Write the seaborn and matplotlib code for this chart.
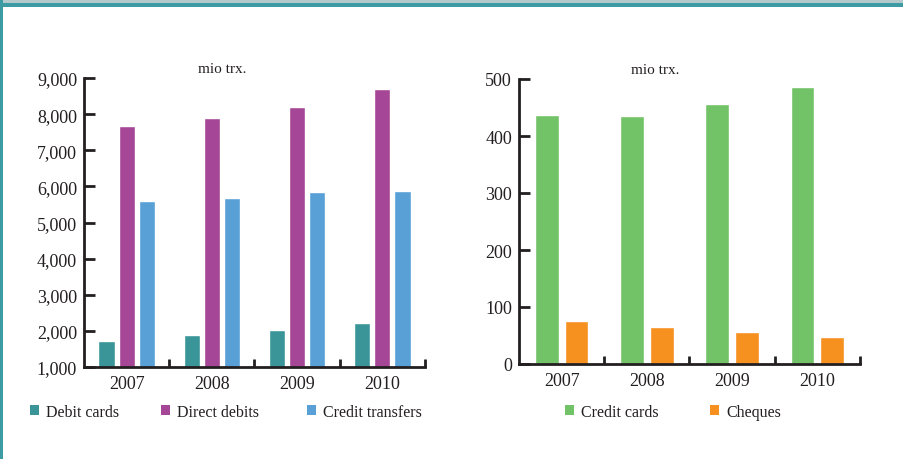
import pandas as pd
import matplotlib
matplotlib.use("Agg")
import matplotlib.pyplot as plt
import seaborn as sns
from matplotlib.patches import Patch, Rectangle
from matplotlib.ticker import FuncFormatter, FixedLocator

years = ["2007", "2008", "2009", "2010"]

# left panel: mio transactions
debit_cards = [1720, 1890, 2020, 2220]
direct_debits = [7680, 7900, 8200, 8700]
credit_transfers = [5600, 5680, 5850, 5880]

# right panel: mio transactions
credit_cards = [437, 435, 456, 486]
cheques = [75, 65, 56, 47]

left_series = ["Debit cards", "Direct debits", "Credit transfers"]
left_colors = ["#3a9599", "#a64696", "#58a0d6"]
right_series = ["Credit cards", "Cheques"]
right_colors = ["#72c267", "#f6901e"]

dark = "#231f20"

sns.set_style("ticks")
plt.rcParams["font.family"] = ["Liberation Serif", "DejaVu Serif"]
plt.rcParams["text.color"] = dark


def long_frame(series_names, values):
    rows = []
    for name, vals in zip(series_names, values):
        for y, v in zip(years, vals):
            rows.append({"year": y, "series": name, "value": v})
    return pd.DataFrame(rows)


left_df = long_frame(left_series, [debit_cards, direct_debits, credit_transfers])
right_df = long_frame(right_series, [credit_cards, cheques])

fig = plt.figure(figsize=(9.04, 4.6), dpi=100)
ax1 = fig.add_axes([84 / 904, 92 / 460, 341 / 904, 289 / 460])
ax2 = fig.add_axes([519 / 904, 95 / 460, 341 / 904, 285 / 460])

sns.barplot(data=left_df, x="year", y="value", hue="series", palette=left_colors,
            width=0.705, gap=0.19, legend=False, ax=ax1, saturation=1)
sns.barplot(data=right_df, x="year", y="value", hue="series", palette=right_colors,
            width=0.70, gap=0.2, legend=False, ax=ax2, saturation=1)

ax1.set_ylim(1000, 9000)
ax1.set_yticks(range(1000, 9001, 1000))
ax1.yaxis.set_major_formatter(FuncFormatter(lambda v, _: f"{v:,.0f}"))
ax2.set_ylim(0, 500)
ax2.set_yticks(range(0, 501, 100))

for ax, tx in [(ax1, 0.405), (ax2, 0.399)]:
    ax.set_xlim(-0.5, 3.5)
    ax.set_xlabel("")
    ax.set_ylabel("")
    sns.despine(ax=ax)
    for s in ["left", "bottom"]:
        ax.spines[s].set_linewidth(2)
        ax.spines[s].set_color(dark)
    ax.tick_params(axis="y", direction="in", length=8, width=2, color=dark,
                   labelsize=13, labelcolor=dark, pad=5)
    ax.tick_params(axis="x", which="major", length=0, labelsize=13,
                   labelcolor=dark, pad=6)
    ax.xaxis.set_minor_locator(FixedLocator([0.5, 1.5, 2.5, 3.5]))
    ax.tick_params(axis="x", which="minor", direction="in", length=6, width=2,
                   color=dark)
    ax.text(tx, 1.0 + 3 / 289, "mio trx.", transform=ax.transAxes,
            ha="center", va="bottom", fontsize=11, color=dark)
    ax.set_facecolor("none")

# legends, one entry each
legend_items = [
    ("Debit cards", left_colors[0], 30),
    ("Direct debits", left_colors[1], 161),
    ("Credit transfers", left_colors[2], 307),
    ("Credit cards", right_colors[0], 565),
    ("Cheques", right_colors[1], 710),
]
for label, color, xpx in legend_items:
    fig.legend(handles=[Patch(facecolor=color, edgecolor="none")], labels=[label],
               loc="center left", bbox_to_anchor=(xpx / 904, 1 - 413 / 460),
               frameon=False, fontsize=11.5, handlelength=0.56, handleheight=0.56,
               handletextpad=0.45, borderpad=0, borderaxespad=0)

# frame decoration
fig.patches.append(Rectangle((0, 1 - 4 / 460), 1, 4 / 460, transform=fig.transFigure,
                             facecolor="#b3c9cc", edgecolor="none", zorder=0))
fig.patches.append(Rectangle((0, 1 - 8 / 460), 1, 4 / 460, transform=fig.transFigure,
                             facecolor="#3d9ba3", edgecolor="none", zorder=0))
fig.patches.append(Rectangle((0, 0), 3 / 904, 1, transform=fig.transFigure,
                             facecolor="#3d9ba3", edgecolor="none", zorder=0))

fig.savefig("out.png", dpi=100)
